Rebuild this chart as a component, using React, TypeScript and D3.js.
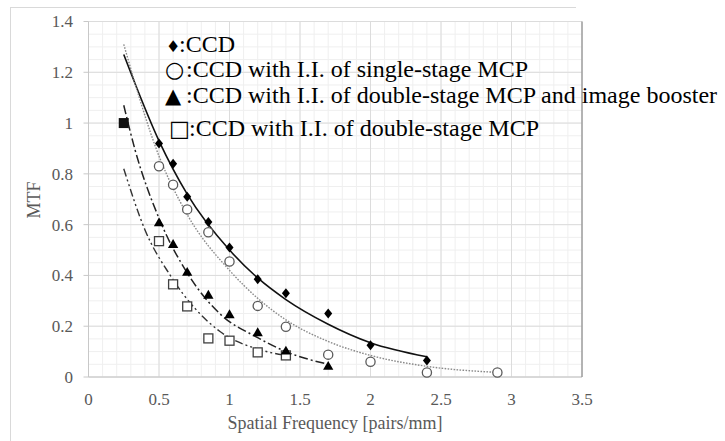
import React from 'react';
import * as d3 from 'd3';

// measured points, spatial frequency [pairs/mm] vs MTF
const ccdFreq = [0.5, 0.6, 0.7, 0.85, 1.0, 1.2, 1.4, 1.7, 2.0, 2.4];
const ccdMtf = [0.92, 0.84, 0.71, 0.61, 0.51, 0.385, 0.33, 0.25, 0.125, 0.065];

const singleFreq = [0.5, 0.6, 0.7, 0.85, 1.0, 1.2, 1.4, 1.7, 2.0, 2.4, 2.9];
const singleMtf = [0.83, 0.757, 0.66, 0.57, 0.455, 0.28, 0.198, 0.088, 0.06, 0.018, 0.018];

const boosterFreq = [0.5, 0.6, 0.7, 0.85, 1.0, 1.2, 1.4, 1.7];
const boosterMtf = [0.605, 0.52, 0.41, 0.32, 0.243, 0.172, 0.1, 0.04];

const doubleFreq = [0.5, 0.6, 0.7, 0.85, 1.0, 1.2, 1.4];
const doubleMtf = [0.535, 0.365, 0.278, 0.152, 0.143, 0.097, 0.085];

// shared normalisation point (drawn as a filled square)
const refFreq = [0.25];
const refMtf = [1.0];

// trend lines
const ccdTrendFreq = [0.25, 0.5, 0.7, 1.0, 1.2, 1.4, 1.7, 2.0, 2.4];
const ccdTrendMtf = [1.27, 0.93, 0.72, 0.5, 0.39, 0.305, 0.208, 0.135, 0.08];
const singleTrendFreq = [0.25, 0.5, 0.7, 1.0, 1.2, 1.4, 1.7, 2.0, 2.4, 2.9];
const singleTrendMtf = [1.31, 0.87, 0.64, 0.42, 0.31, 0.225, 0.14, 0.085, 0.042, 0.018];
const boosterTrendFreq = [0.25, 0.33, 0.5, 0.7, 0.93, 1.2, 1.4, 1.7];
const boosterTrendMtf = [1.07, 0.895, 0.625, 0.41, 0.25, 0.155, 0.1, 0.05];
const doubleTrendFreq = [0.25, 0.4, 0.58, 0.93, 1.2, 1.4];
const doubleTrendMtf = [0.82, 0.58, 0.4, 0.18, 0.11, 0.085];

const xTicks = [0, 0.5, 1, 1.5, 2, 2.5, 3, 3.5];
const yTicks = [0, 0.2, 0.4, 0.6, 0.8, 1, 1.2, 1.4];

const legendSymbols = ['\u2666', '\u25CB', '\u25B2', '\u25A1'];
const legendLabels = [
  ':CCD',
  ':CCD with I.I. of single-stage MCP',
  ':CCD with I.I. of double-stage MCP and image booster',
  ':CCD with I.I. of double-stage MCP',
];

const zip = (xs: number[], ys: number[]) => xs.map((x, i) => [x, ys[i]] as [number, number]);

export default function App() {
  const width = 725;
  const height = 441;
  const x = d3.scaleLinear().domain([0, 3.5]).range([88.5, 582]);
  const y = d3.scaleLinear().domain([0, 1.4]).range([377, 21.5]);

  const line = d3
    .line<[number, number]>()
    .x(d => x(d[0]))
    .y(d => y(d[1]))
    .curve(d3.curveMonotoneX);

  const minorX = d3.range(0, 36).map(i => i / 10);
  const minorY = d3.range(0, 29).map(i => i * 0.05);

  const serif = "'Liberation Serif', 'Times New Roman', serif";
  const grey = '#595959';

  const diamond = (cx: number, cy: number) =>
    `M${cx},${cy - 5}L${cx + 4},${cy}L${cx},${cy + 5}L${cx - 4},${cy}Z`;
  const tri = d3.symbol().type(d3.symbolTriangle).size(46);

  // legend layout
  const legendBase = [52, 77, 103, 136];
  const symX = [166, 165, 165, 169];
  const symSize = [16, 22, 21, 22];
  const labelX = [179, 186, 186, 189];

  return (
    <div style={{ position: 'absolute', left: 0, top: 0 }}>
      <svg width={width} height={height} style={{ display: 'block', background: '#fff' }}>
        {/* outer frame */}
        <line x1={10} x2={576} y1={7.5} y2={7.5} stroke="#d9d9d9" />
        <line x1={10.5} x2={10.5} y1={7} y2={441} stroke="#d9d9d9" />

        {/* minor grid */}
        {minorX.map((v, i) => (
          <line key={'mx' + i} x1={x(v)} x2={x(v)} y1={y(1.4)} y2={y(0)} stroke="#efefef" />
        ))}
        {minorY.map((v, i) => (
          <line key={'my' + i} x1={x(0)} x2={x(3.5)} y1={y(v)} y2={y(v)} stroke="#efefef" />
        ))}
        {/* major grid */}
        {xTicks.map(v => (
          <line key={'gx' + v} x1={x(v)} x2={x(v)} y1={y(1.4)} y2={y(0)} stroke="#dcdcdc" />
        ))}
        {yTicks.map(v => (
          <line key={'gy' + v} x1={x(0)} x2={x(3.5)} y1={y(v)} y2={y(v)} stroke="#dcdcdc" />
        ))}
        {/* axes */}
        <line x1={x(0)} x2={x(3.5)} y1={y(0)} y2={y(0)} stroke="#c8c8c8" />
        <line x1={x(0)} x2={x(0)} y1={y(1.4)} y2={y(0)} stroke="#c8c8c8" />
        <line x1={x(3.5)} x2={x(3.5)} y1={y(1.4)} y2={y(0)} stroke="#7f7f7f" />
        {yTicks.map(v => (
          <line key={'ty' + v} x1={x(0) - 5} x2={x(0)} y1={y(v)} y2={y(v)} stroke="#c8c8c8" />
        ))}

        {/* tick labels */}
        {yTicks.map(v => (
          <text key={'ly' + v} x={73} y={y(v)} dy="0.35em" textAnchor="end" fontFamily={serif} fontSize={17} fill={grey}>
            {String(v)}
          </text>
        ))}
        {xTicks.map(v => (
          <text key={'lx' + v} x={x(v)} y={405} textAnchor="middle" fontFamily={serif} fontSize={17} fill={grey}>
            {String(v)}
          </text>
        ))}
        <text x={335} y={429} textAnchor="middle" fontFamily={serif} fontSize={18} fill={grey}>
          Spatial Frequency [pairs/mm]
        </text>
        <text transform="translate(40,200) rotate(-90)" textAnchor="middle" fontFamily={serif} fontSize={18} fill={grey}>
          MTF
        </text>

        {/* trend lines */}
        <path d={line(zip(ccdTrendFreq, ccdTrendMtf)) || ''} fill="none" stroke="#111" strokeWidth={1.6} />
        <path d={line(zip(singleTrendFreq, singleTrendMtf)) || ''} fill="none" stroke="#8a8a8a" strokeWidth={1.4} strokeDasharray="1.6 1.4" />
        <path d={line(zip(boosterTrendFreq, boosterTrendMtf)) || ''} fill="none" stroke="#222" strokeWidth={1.5} strokeDasharray="9 3 2 3" />
        <path d={line(zip(doubleTrendFreq, doubleTrendMtf)) || ''} fill="none" stroke="#333" strokeWidth={1.4} strokeDasharray="8 3 2 3 2 3" />

        {/* markers */}
        {zip(singleFreq, singleMtf).map((d, i) => (
          <circle key={'c' + i} cx={x(d[0])} cy={y(d[1])} r={4.6} fill="#fff" stroke="#5a5a5a" strokeWidth={1.3} />
        ))}
        {zip(doubleFreq, doubleMtf).map((d, i) => (
          <rect key={'s' + i} x={x(d[0]) - 4.5} y={y(d[1]) - 4.5} width={9} height={9} fill="#fff" stroke="#404040" strokeWidth={1.3} />
        ))}
        {zip(boosterFreq, boosterMtf).map((d, i) => (
          <path key={'t' + i} d={tri() || ''} transform={`translate(${x(d[0])},${y(d[1])})`} fill="#000" />
        ))}
        {zip(ccdFreq, ccdMtf).map((d, i) => (
          <path key={'d' + i} d={diamond(x(d[0]), y(d[1]))} fill="#000" />
        ))}
        {zip(refFreq, refMtf).map((d, i) => (
          <rect key={'r' + i} x={x(d[0]) - 5} y={y(d[1]) - 5} width={10} height={10} fill="#111" />
        ))}

        {/* legend */}
        {legendLabels.map((label, i) => (
          <g key={'lg' + i}>
            <text x={symX[i]} y={legendBase[i]} fontFamily="'DejaVu Sans', sans-serif" fontSize={symSize[i]} fill="#000">
              {legendSymbols[i]}
            </text>
            <text x={labelX[i]} y={legendBase[i]} fontFamily={serif} fontSize={24} fill="#000">
              {label}
            </text>
          </g>
        ))}
      </svg>
    </div>
  );
}
